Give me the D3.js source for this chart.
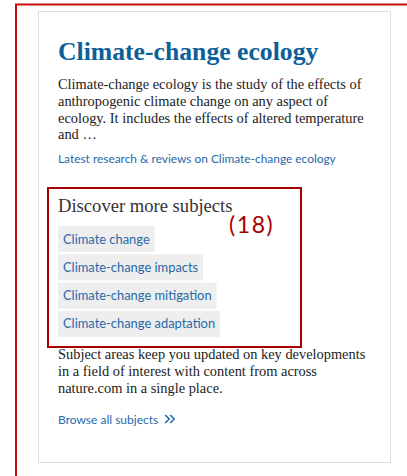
<!DOCTYPE html>
<html>
<head>
<meta charset="utf-8">
<script src="https://cdn.jsdelivr.net/npm/d3@7"></script>
<style>
  html, body { margin: 0; padding: 0; background: #fff; }
  svg { display: block; }
</style>
</head>
<body>
<div id="card"></div>
<script>
/* global d3 */
var title = "Climate-change ecology";
var summary = [
	"Climate-change ecology is the study of the effects of",
	"anthropogenic climate change on any aspect of",
	"ecology. It includes the effects of altered temperature",
	"and \u2026"
];
var latestLink = "Latest research & reviews on Climate-change ecology";
var discoverTitle = "Discover more subjects";
var annotation = "(18)";
var subjects = ["Climate change", "Climate-change impacts", "Climate-change mitigation", "Climate-change adaptation"];
var footer = [
	"Subject areas keep you updated on key developments",
	"in a field of interest with content from across",
	"nature.com in a single place."
];
var browseLink = "Browse all subjects";

var width = 407,
	height = 476,
	serif = "'Liberation Serif', 'DejaVu Serif', serif",
	sans = "Lato, 'Open Sans', sans-serif",
	blue = "#0d5f98",
	linkBlue = "#2868a8",
	red = "#a80000";

var svg = d3.select("#card")
	.append("svg")
	.attr("width", width)
	.attr("height", height);

svg.append("rect").attr("width", width).attr("height", height).attr("fill", "#fff");

// outer annotation frame (runs off the right/bottom)
svg.append("rect")
	.attr("x", 16).attr("y", 4.5)
	.attr("width", 420).attr("height", 500)
	.attr("fill", "none")
	.attr("stroke", "#c40d0d")
	.attr("stroke-width", 2);

// card
svg.append("rect")
	.attr("x", 38.5).attr("y", 11.5)
	.attr("width", 352).attr("height", 451)
	.attr("fill", "#fff")
	.attr("stroke", "#dedede")
	.attr("stroke-width", 1);

svg.append("text")
	.attr("x", 58).attr("y", 60)
	.attr("font-family", serif)
	.attr("font-weight", "bold")
	.attr("font-size", 25.7)
	.attr("fill", blue)
	.text(title);

var lineY = d3.scaleLinear().domain([0, 1]).range([89, 105.8]);

svg.append("g").selectAll("text")
	.data(summary)
	.enter().append("text")
	.attr("x", 58)
	.attr("y", function(d, i){ return lineY(i); })
	.attr("font-family", serif)
	.attr("font-size", 14.4)
	.attr("fill", "#222")
	.text(String);

svg.append("text")
	.attr("x", 58).attr("y", 163)
	.attr("font-family", sans)
	.attr("font-size", 11.9)
	.attr("fill", linkBlue)
	.text(latestLink);

svg.append("text")
	.attr("x", 58).attr("y", 212)
	.attr("font-family", serif)
	.attr("font-size", 18.6)
	.attr("fill", "#333")
	.text(discoverTitle);

// tags
var tagY = d3.scaleBand()
	.domain(subjects)
	.range([226, 337])
	.paddingInner(0.08)
	.paddingOuter(0);

var tag = svg.append("g").selectAll("g")
	.data(subjects)
	.enter().append("g")
	.attr("transform", function(d){ return "translate(58," + tagY(d) + ")"; });

tag.append("rect")
	.attr("height", tagY.bandwidth())
	.attr("fill", "#eeeeee");

var label = tag.append("text")
	.attr("x", 5)
	.attr("y", tagY.bandwidth() / 2 + 4.5)
	.attr("font-family", sans)
	.attr("font-size", 12.9)
	.attr("fill", linkBlue)
	.text(String);

label.each(function(){
	var w = this.getComputedTextLength();
	d3.select(this.parentNode).select("rect").attr("width", w + 10);
});

// red annotation box
svg.append("rect")
	.attr("x", 48).attr("y", 188)
	.attr("width", 253).attr("height", 159)
	.attr("fill", "none")
	.attr("stroke", red)
	.attr("stroke-width", 2);

svg.append("text")
	.attr("x", 229).attr("y", 233)
	.attr("font-family", sans)
	.attr("font-size", 23)
	.attr("letter-spacing", 1.6)
	.attr("fill", red)
	.text(annotation);

var footY = d3.scaleLinear().domain([0, 1]).range([359, 375.8]);

svg.append("g").selectAll("text")
	.data(footer)
	.enter().append("text")
	.attr("x", 58)
	.attr("y", function(d, i){ return footY(i); })
	.attr("font-family", serif)
	.attr("font-size", 14.4)
	.attr("fill", "#222")
	.text(String);

var browse = svg.append("text")
	.attr("x", 58).attr("y", 424)
	.attr("font-family", sans)
	.attr("font-size", 12)
	.attr("fill", linkBlue)
	.text(browseLink);

var bx = 58 + browse.node().getComputedTextLength() + 7;
// double chevron
[0, 5].forEach(function(dx){
	svg.append("path")
		.attr("d", "M" + (bx + dx) + ",415 l4,4 l-4,4")
		.attr("fill", "none")
		.attr("stroke", linkBlue)
		.attr("stroke-width", 1.6);
});
</script>
</body>
</html>
